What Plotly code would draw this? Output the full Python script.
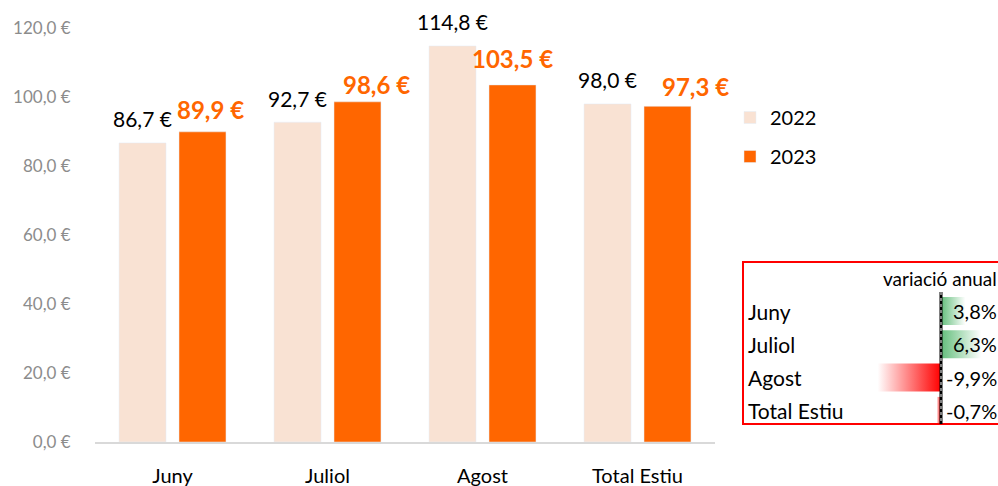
import plotly.graph_objects as go

categories = ["Juny", "Juliol", "Agost", "Total Estiu"]
values_2022 = [86.7, 92.7, 114.8, 98.0]
values_2023 = [89.9, 98.6, 103.5, 97.3]
variation_pct = [3.8, 6.3, -9.9, -0.7]
variation_labels = ["3,8%", "6,3%", "-9,9%", "-0,7%"]
ytick_vals = [0, 20, 40, 60, 80, 100, 120]
ytick_text = ["0,0 €", "20,0 €", "40,0 €", "60,0 €", "80,0 €", "100,0 €", "120,0 €"]

# hand-placed label nudges (pixels) as in the original
nudge_2023_dx = [8, 19, 0, 28]
nudge_2023_dy = [22, 17, 26, 20]
nudge_2022_dy = 24

FONT = "Lato"
C22 = "#F9E2D3"
C23 = "#FF6600"

W, H = 998, 486
ml, mt, mb = 95, 28, 44
pw = W - ml
ph = H - mt - mb
plot_w = 620
BARGAP = 0.226

def px_x(p):
    return (p - ml) / pw

def px_y(p):
    return (H - mb - p) / ph

fig = go.Figure()

fig.add_trace(go.Bar(
    x=categories, y=values_2022, name="2022", marker_color=C22,
    legendgroup="a", hoverinfo="x+y",
))
fig.add_trace(go.Bar(
    x=categories, y=values_2023, name="2023", marker_color=C23,
    legendgroup="b", hoverinfo="x+y",
))

# offset of each bar centre from its category centre, in pixels
slot = plot_w / len(categories) * (1 - BARGAP) / 2
annotations = []
for c, v in zip(categories, values_2022):
    annotations.append(dict(
        x=c, y=v, xref="x", yref="y", text=f"{v:.1f} €".replace(".", ","),
        showarrow=False, xshift=-slot / 2, yshift=nudge_2022_dy, yanchor="middle",
        font=dict(family=FONT, size=21, color="#000000"),
    ))
for c, v, dx, dy in zip(categories, values_2023, nudge_2023_dx, nudge_2023_dy):
    annotations.append(dict(
        x=c, y=v, xref="x", yref="y", text="<b>" + f"{v:.1f} €".replace(".", ",") + "</b>",
        showarrow=False, xshift=slot / 2 + dx, yshift=dy, yanchor="middle",
        font=dict(family=FONT, size=24, color=C23),
    ))

# table data bars
h = 0.42
for i, v in enumerate(variation_pct):
    if v >= 0:
        cs = [[0, "#63BE7B"], [1, "#FFFFFF"]]
    else:
        cs = [[0, "#FFFFFF"], [1, "#FF0000"]]
    fig.add_trace(go.Scatter(
        x=[0, v, v, 0, 0], y=[i - h, i - h, i + h, i + h, i - h],
        xaxis="x2", yaxis="y2", mode="lines", line=dict(width=0),
        fill="toself", fillgradient=dict(type="horizontal", colorscale=cs),
        showlegend=False, hoverinfo="skip",
    ))

x2_range = [-(941 - 743) / 6.4, (998 - 941) / 6.4]
row_px = 33.3
y2_top = (262 - 311) / row_px
y2_bot = (424 - 311) / row_px

for i, (c, lab) in enumerate(zip(categories, variation_labels)):
    annotations.append(dict(
        x=px_x(746), xref="paper", y=i, yref="y2", text=c, showarrow=False,
        xanchor="left", yanchor="middle", font=dict(family=FONT, size=21, color="#000000"),
    ))
    annotations.append(dict(
        x=px_x(999), xref="paper", y=i, yref="y2", text=lab, showarrow=False,
        xanchor="right", yanchor="middle", font=dict(family=FONT, size=20, color="#000000"),
    ))
annotations.append(dict(
    x=px_x(999), xref="paper", y=(278 - 311) / row_px, yref="y2", text="variació anual",
    showarrow=False, xanchor="right", yanchor="middle",
    font=dict(family=FONT, size=19, color="#000000"),
))

shapes = [
    dict(type="rect", xref="paper", yref="paper", x0=px_x(743), x1=px_x(1010),
         y0=px_y(424), y1=px_y(262), line=dict(color="#FF0000", width=2)),
    dict(type="line", xref="x2", yref="y2", x0=0, x1=0, y0=(292 - 311) / row_px, y1=y2_bot,
         line=dict(color="#000000", width=3)),
    dict(type="line", xref="x2", yref="y2", x0=0, x1=0, y0=(292 - 311) / row_px, y1=y2_bot,
         line=dict(color="#FFFFFF", width=1, dash="dot")),
]

fig.update_layout(
    width=W, height=H,
    margin=dict(l=ml, r=0, t=mt, b=mb, autoexpand=False),
    paper_bgcolor="white", plot_bgcolor="white",
    barmode="group", bargap=BARGAP, bargroupgap=0.217,
    font=dict(family=FONT, color="#000000"),
    xaxis=dict(domain=[0, plot_w / pw], range=[-0.5, len(categories) - 0.5],
               showline=True, linecolor="#D9D9D9", linewidth=2,
               ticks="outside", ticklen=15, tickcolor="rgba(0,0,0,0)", automargin=False,
               tickfont=dict(family=FONT, size=20, color="#000000"), showgrid=False),
    yaxis=dict(range=[0, 120], tickvals=ytick_vals, ticktext=ytick_text,
               showgrid=False, zeroline=False, ticks="outside", ticklen=20,
               tickcolor="rgba(0,0,0,0)", automargin=False,
               tickfont=dict(family=FONT, size=17, color="#8C8C8C")),
    xaxis2=dict(domain=[px_x(743), 1.0], range=x2_range, anchor="y2", visible=False,
                fixedrange=True),
    yaxis2=dict(domain=[px_y(424), px_y(262)], range=[y2_bot, y2_top], anchor="x2",
                visible=False, fixedrange=True),
    legend=dict(x=px_x(730), y=px_y(98), xanchor="left", yanchor="top",
                font=dict(family=FONT, size=20, color="#000000"),
                traceorder="grouped", tracegroupgap=10, bgcolor="rgba(0,0,0,0)"),
    annotations=annotations,
    shapes=shapes,
)

fig.write_html(
    "out.html",
    config={"displayModeBar": False},
    post_script="document.body.style.margin='0';document.body.style.overflow='hidden';",
)
